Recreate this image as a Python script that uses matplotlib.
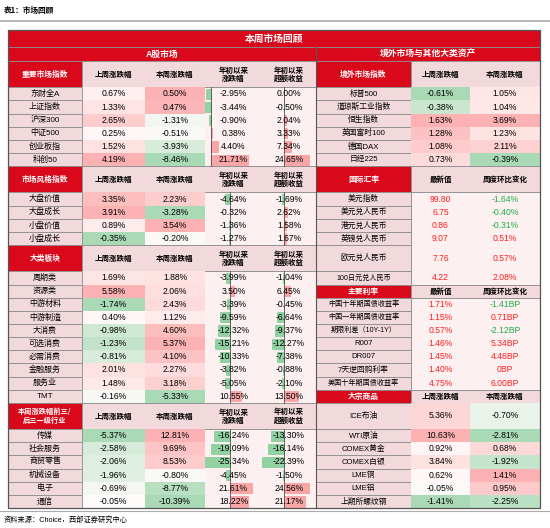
import matplotlib
matplotlib.use("Agg")
import matplotlib.pyplot as plt
from matplotlib.patches import Rectangle
import numpy as np

plt.rcParams['font.family'] = ['Liberation Sans', 'Noto Sans CJK SC', 'DejaVu Sans']

# ---------------- data ----------------
t1_labels = ["东财全A", "上证指数", "沪深300", "中证500", "创业板指", "科创50"]
t1_lw = [0.67, 1.33, 2.65, 0.25, 1.52, 4.19]
t1_tw = [0.50, 0.47, -1.31, -0.51, -3.93, -8.46]
t1_ytd = [-2.95, -3.44, -0.90, 0.38, 4.40, 21.71]
t1_exc = [0.00, -0.50, 2.04, 3.33, 7.34, 24.65]

t2_labels = ["大盘价值", "大盘成长", "小盘价值", "小盘成长"]
t2_lw = [3.35, 3.91, 0.89, -0.35]
t2_tw = [2.23, -3.28, 3.54, -0.20]
t2_ytd = [-4.64, -0.32, -1.36, -1.27]
t2_exc = [-1.69, 2.62, 1.58, 1.67]

t3_labels = ["周期类", "资源类", "中游材料", "中游制造", "大消费", "可选消费",
             "必需消费", "金融服务", "服务业", "TMT"]
t3_lw = [1.69, 5.58, -1.74, 0.40, -0.98, -1.23, -0.81, 2.01, 1.48, -0.16]
t3_tw = [1.88, 2.06, 2.43, 1.12, 4.60, 5.37, 4.10, 2.27, 3.18, -5.33]
t3_ytd = [-3.99, 3.50, -3.39, -9.59, -12.32, -15.21, -10.33, -3.82, -5.05, 10.55]
t3_exc = [-1.04, 6.45, -0.45, -6.64, -9.37, -12.27, -7.38, -0.88, -2.10, 13.50]

t4_labels = ["传媒", "社会服务", "商贸零售", "机械设备", "电子", "通信"]
t4_lw = [-5.37, -2.58, -2.06, -1.96, -0.69, -0.05]
t4_tw = [12.81, 9.69, 8.53, -0.80, -8.77, -10.39]
t4_ytd = [-16.24, -19.09, -25.34, -4.45, 21.61, 18.22]
t4_exc = [-13.30, -16.14, -22.39, -1.50, 24.56, 21.17]

r1_labels = ["标普500", "道琼斯工业指数", "恒生指数", "英国富时100", "德国DAX", "日经225"]
r1_lw = [-0.61, -0.38, 1.63, 1.28, 1.08, 0.73]
r1_tw = [1.05, 1.04, 3.69, 1.23, 2.11, -0.39]

fx_labels = ["美元指数", "美元兑人民币", "港元兑人民币", "英镑兑人民币", "欧元兑人民币", "100日元兑人民币"]
fx_last = [99.80, 6.75, 0.86, 9.07, 7.76, 4.22]
fx_chg = [-1.64, -0.40, -0.31, 0.51, 0.57, 2.08]

rt_labels = ["中国十年期国债收益率", "中国一年期国债收益率", "期限利差（10Y-1Y）", "R007",
             "DR007", "7天逆回购利率", "美国十年期国债收益率"]
rt_last = [1.71, 1.15, 0.57, 1.46, 1.45, 1.40, 4.75]
rt_chg = [-1.41, 0.71, -2.12, 5.34, 4.46, 0, 6.00]

cm_labels = ["ICE布油", "WTI原油", "COMEX黄金", "COMEX白银", "LME铜", "LME铝", "上期所螺纹钢"]
cm_lw = [5.36, 10.63, 0.92, 3.84, 0.62, -0.05, -1.41]
cm_tw = [-0.70, -2.81, 0.68, -1.92, 1.41, 0.95, -2.25]

# ---------------- style ----------------
RED = "#d9091b"
PINK = "#f2d9dc"
HDR = "#f2dadc"
BG = "#fcf0f0"
GRID = "#8c8c8c"
CJK = ['Noto Sans CJK SC', 'DejaVu Sans']

fig = plt.figure(figsize=(5.5, 5.28), dpi=100)
ax = fig.add_axes([0, 0, 1, 1])
ax.set_xlim(0, 550)
ax.set_ylim(528, 0)
ax.axis("off")


def rect(x0, y0, x1, y1, fc, ec="none", lw=0.6, z=1, alpha=1):
    ax.add_patch(Rectangle((x0, y0), x1 - x0, y1 - y0, fc=fc, ec=ec, lw=lw, zorder=z, alpha=alpha))


def txt(x, y, s, size=6.2, color="black", bold=False, fam=None, ha="center"):
    ax.text(x, y, s, ha=ha, va="center", fontsize=size, color=color,
            fontweight="bold" if bold else "normal",
            family=fam if fam else ['Liberation Sans', 'Noto Sans CJK SC'], zorder=10)


def mix(c, t):
    base = np.array([1.0, 0.985, 0.985])
    c = np.array(matplotlib.colors.to_rgb(c))
    return tuple(base + (c - base) * t)


def heat(v, vals):
    mx = max(max(vals), 1e-9)
    mn = min(min(vals), -1e-9)
    if v >= 0:
        return mix("#f8696b", 0.5 * v / mx)
    return mix("#63be7b", 0.55 * v / mn)


U = 447 / 34.0
Y0 = 61.0

# top title
txt(4, 10, "表1：市场回顾", size=5.5, fam=CJK, ha="left", bold=True)
ax.plot([0, 550], [21, 21], color="#aaaaaa", lw=1.2)
# footer
ax.plot([0, 550], [511, 511], color="#aaaaaa", lw=0.8)
txt(4, 520, "资料来源：Choice，西部证券研究中心", size=5.2, ha="left")

# header bars
rect(8, 30, 540, 47, RED, ec=GRID)
txt(274, 38.5, "本周市场回顾", size=7, color="white", bold=True, fam=CJK)
rect(8, 47, 316, 61, RED, ec=GRID)
txt(162, 54, "A股市场", size=6.3, color="white", bold=True)
rect(316, 47, 540, 61, RED, ec=GRID)
txt(428, 54, "境外市场与其他大类资产", size=6.3, color="white", bold=True, fam=CJK)

# ---------------- left side ----------------
LX = [8, 82, 145, 205, 262, 316]
left_tables = [
    ("重要市场指数", t1_labels, t1_lw, t1_tw, t1_ytd, t1_exc, 211, 1.7, 284, 1.0),
    ("市场风格指数", t2_labels, t2_lw, t2_tw, t2_ytd, t2_exc, 230, 1.0, 284, 1.0),
    ("大类板块", t3_labels, t3_lw, t3_tw, t3_ytd, t3_exc, 230, 1.0, 284, 1.0),
    ("本周涨跌幅前三/\n后三一级行业", t4_labels, t4_lw, t4_tw, t4_ytd, t4_exc, 230, 1.0, 284, 1.0),
]
heads = ["上周涨跌幅", "本周涨跌幅", "年初以来\n涨跌幅", "年初以来\n超额收益"]
y = Y0
for name, labs, lw_, tw_, ytd, exc, ax1, s1, ax2, s2 in left_tables:
    h = 2 * U
    rect(LX[0], y, LX[1], y + h, RED, ec=GRID)
    txt((LX[0] + LX[1]) / 2, y + h / 2, name, size=5.2 if "\n" in name else 5.6,
        color="white", bold=True, fam=CJK)
    rect(LX[1], y, LX[5], y + h, HDR, ec=GRID)
    for j, hd in enumerate(heads):
        txt((LX[j + 1] + LX[j + 2]) / 2, y + h / 2, hd, size=5.4, bold=True, fam=CJK)
    y += h
    ys = y
    n = len(labs)
    rect(LX[1], ys, LX[5], ys + n * U, BG, ec=GRID)
    for i in range(n):
        yy = ys + i * U
        rect(LX[0], yy, LX[1], yy + U, PINK, ec=GRID)
        txt((LX[0] + LX[1]) / 2, yy + U / 2, labs[i], size=5.8)
        rect(LX[1], yy, LX[2], yy + U, heat(lw_[i], lw_), z=2)
        rect(LX[2], yy, LX[3], yy + U, heat(tw_[i], tw_), z=2)
        txt((LX[1] + LX[2]) / 2, yy + U / 2, f"{lw_[i]:.2f}%")
        txt((LX[2] + LX[3]) / 2, yy + U / 2, f"{tw_[i]:.2f}%")
        for vals, axx, sc, c0, c1 in ((ytd, ax1, s1, LX[3], LX[4]), (exc, ax2, s2, LX[4], LX[5])):
            v = vals[i]
            col = "#f8696b" if v > 0 else "#3cb862"
            rect(axx, yy + 1.5, axx + v * sc, yy + U - 1.5, col, ec=col, lw=0.5, z=3, alpha=0.55)
            txt((c0 + c1) / 2, yy + U / 2, f"{v:.2f}%")
    for axx in (ax1, ax2):
        ax.plot([axx, axx], [ys, ys + n * U], color="#333333", lw=0.5, zorder=4)
    ax.plot([LX[1], LX[1]], [ys, ys + n * U], color=GRID, lw=0.6, zorder=5)
    y = ys + n * U

# ---------------- right side ----------------
RX = [316, 411, 470, 540]


def rheader(y, h, name, c1, c2):
    rect(RX[0], y, RX[1], y + h, RED, ec=GRID)
    txt((RX[0] + RX[1]) / 2, y + h / 2, name, size=5.6, color="white", bold=True, fam=CJK)
    rect(RX[1], y, RX[3], y + h, HDR, ec=GRID)
    txt((RX[1] + RX[2]) / 2, y + h / 2, c1, size=5.4, bold=True, fam=CJK)
    txt((RX[2] + RX[3]) / 2, y + h / 2, c2, size=5.4, bold=True, fam=CJK)
    return y + h


def rlabel(y, h, s):
    rect(RX[0], y, RX[1], y + h, PINK, ec=GRID)
    txt((RX[0] + RX[1]) / 2, y + h / 2, s, size=5.6 if len(s) < 8 else 5.1)


y = rheader(Y0, 2 * U, "境外市场指数", "上周涨跌幅", "本周涨跌幅")
rect(RX[1], y, RX[3], y + len(r1_labels) * U, BG, ec=GRID)
for i, s in enumerate(r1_labels):
    rlabel(y, U, s)
    rect(RX[1], y, RX[2], y + U, heat(r1_lw[i], r1_lw), z=2)
    rect(RX[2], y, RX[3], y + U, heat(r1_tw[i], r1_tw), z=2)
    txt((RX[1] + RX[2]) / 2, y + U / 2, f"{r1_lw[i]:.2f}%")
    txt((RX[2] + RX[3]) / 2, y + U / 2, f"{r1_tw[i]:.2f}%")
    y += U

y = rheader(y, 2 * U, "国际汇率", "最新值", "周度环比变化")
fx_h = [1, 1, 1, 1, 2, 1]
rect(RX[1], y, RX[3], y + sum(fx_h) * U, BG, ec=GRID)
for i, s in enumerate(fx_labels):
    h = fx_h[i] * U
    rlabel(y, h, s)
    txt((RX[1] + RX[2]) / 2, y + h / 2, f"{fx_last[i]:.2f}", color="#ff2020")
    txt((RX[2] + RX[3]) / 2, y + h / 2, f"{fx_chg[i]:.2f}%",
        color="#1fae4b" if fx_chg[i] < 0 else "#ff2020")
    y += h

y = rheader(y, U, "主要利率", "最新值", "周度环比变化")
rect(RX[1], y, RX[3], y + len(rt_labels) * U, BG, ec=GRID)
for i, s in enumerate(rt_labels):
    rlabel(y, U, s)
    txt((RX[1] + RX[2]) / 2, y + U / 2, f"{rt_last[i]:.2f}%", color="#ff2020")
    v = rt_chg[i]
    sv = "0BP" if v == 0 else f"{v:.2f}BP"
    txt((RX[2] + RX[3]) / 2, y + U / 2, sv, color="#1fae4b" if v < 0 else "#ff2020")
    y += U

y = rheader(y, U, "大宗商品", "上周涨跌幅", "本周涨跌幅")
cm_h = [2, 1, 1, 1, 1, 1, 1]
rect(RX[1], y, RX[3], y + sum(cm_h) * U, BG, ec=GRID)
for i, s in enumerate(cm_labels):
    h = cm_h[i] * U
    rlabel(y, h, s)
    rect(RX[1], y, RX[2], y + h, heat(cm_lw[i], cm_lw), z=2)
    rect(RX[2], y, RX[3], y + h, heat(cm_tw[i], cm_tw), z=2)
    txt((RX[1] + RX[2]) / 2, y + h / 2, f"{cm_lw[i]:.2f}%")
    txt((RX[2] + RX[3]) / 2, y + h / 2, f"{cm_tw[i]:.2f}%")
    y += h

# outer frame
rect(8, 30, 540, 508, "none", ec="#555555", lw=0.9, z=6)
ax.plot([316, 316], [47, 508], color="#555555", lw=0.8, zorder=6)

fig.savefig("out.png", dpi=100)
